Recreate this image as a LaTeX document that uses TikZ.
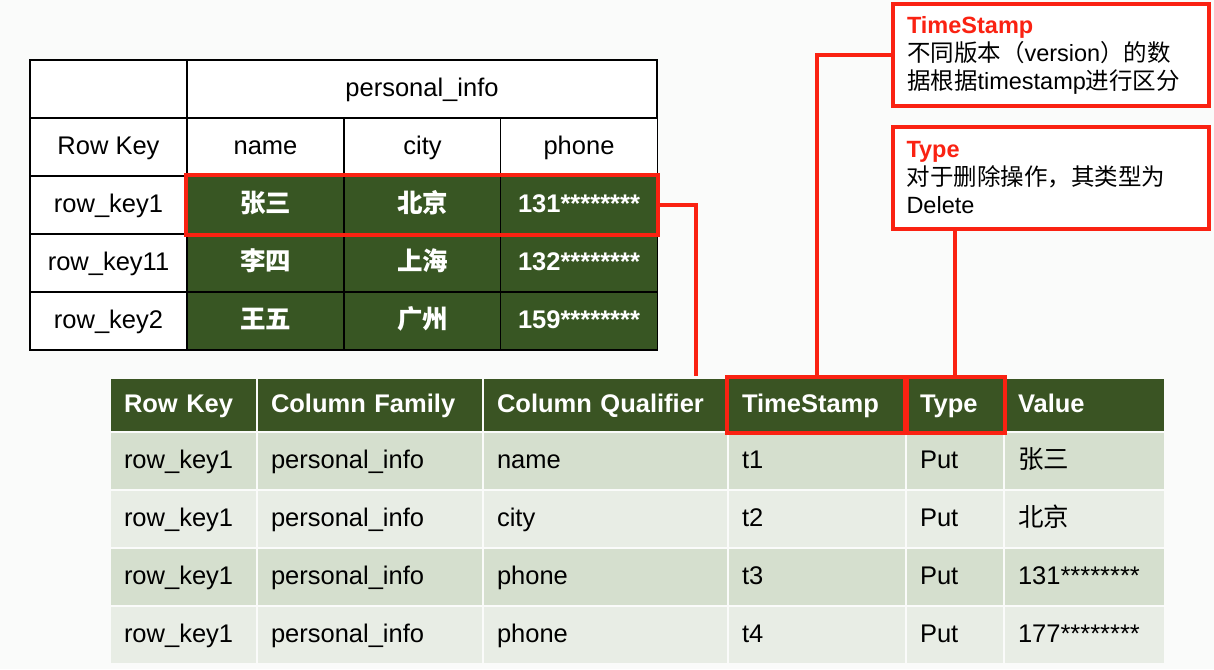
\documentclass[tikz,border=0pt]{standalone}
\usepackage{fontspec}
\setmainfont{Liberation Sans}
\newfontfamily\cjk{Noto Sans CJK SC}
\usetikzlibrary{fit}

\definecolor{paper}{RGB}{250,251,250}
\definecolor{leaf}{RGB}{56,86,35}
\definecolor{headgreen}{RGB}{58,84,35}
\definecolor{rowa}{RGB}{213,223,206}
\definecolor{rowb}{RGB}{232,237,229}
\definecolor{markred}{RGB}{250,34,18}

\begin{document}
\begin{tikzpicture}[x=1pt,y=-1pt,
    cell/.style={draw=black,line width=1.3pt,fill=white,minimum width=157,minimum height=58,
                 inner sep=0pt,text height=19pt,text depth=5pt,font=\fontsize{25.5}{28}\selectfont},
    green cell/.style={cell,fill=leaf,text=white,font=\fontsize{25.5}{28}\selectfont\bfseries},
    head cell/.style={draw=paper,line width=2.5pt,fill=headgreen,text=white,minimum height=54,
                 inner xsep=14,inner ysep=0pt,text height=19pt,text depth=5pt,align=left,
                 font=\fontsize{25.5}{28}\selectfont\bfseries},
    body cell/.style={draw=paper,line width=2.5pt,minimum height=58,inner xsep=14,inner ysep=0pt,
                 text height=19pt,text depth=5pt,align=left,font=\fontsize{25.5}{28}\selectfont},
    redbox/.style={draw=markred,line width=4pt,inner sep=0pt},
    note/.style={draw=markred,line width=4pt,fill=white,text width=288,minimum height=102,
                 inner xsep=14,align=left,font=\fontsize{23.5}{28}\selectfont},
    link/.style={draw=markred,line width=4pt}]

  \fill[paper] (0,0) rectangle (1214,669);
  \useasboundingbox (0,0) rectangle (1214,669);

  % personal_info table
  \node[cell] (blank) at (108.5,89) {};
  \node[cell,minimum width=470] (fam) at (422,89) {personal\_info};
  \node[cell] (rk) at (108.5,147) {Row Key};
  \node[cell] (nm) at (265.5,147) {name};
  \node[cell] (ct) at (422.5,147) {city};
  \node[cell] (ph) at (579,147) {phone};
  \node[cell] (k1) at (108.5,205) {row\_key1};
  \node[green cell] (n1) at (265.5,205) {\cjk 张三};
  \node[green cell] (c1) at (422.5,205) {\cjk 北京};
  \node[green cell] (p1) at (579,205) {131********};
  \node[cell] (k2) at (108.5,263) {row\_key11};
  \node[green cell] (n2) at (265.5,263) {\cjk 李四};
  \node[green cell] (c2) at (422.5,263) {\cjk 上海};
  \node[green cell] (p2) at (579,263) {132********};
  \node[cell] (k3) at (108.5,321) {row\_key2};
  \node[green cell] (n3) at (265.5,321) {\cjk 王五};
  \node[green cell] (c3) at (422.5,321) {\cjk 广州};
  \node[green cell] (p3) at (579,321) {159********};

  % cell table
  \node[head cell,text width=119] (hk) at (183.5,405) {Row Key};
  \node[head cell,text width=198] (hf) at (370,405) {Column Family};
  \node[head cell,text width=217] (hq) at (605.5,405) {Column Qualifier};
  \node[head cell,text width=150] (ht) at (817,405) {TimeStamp};
  \node[head cell,text width=70] (hy) at (955,405) {Type};
  \node[head cell,text width=133] (hv) at (1084.5,405) {Value};

  \foreach \i/\q/\t/\v/\c in {1/name/t1/{\cjk 张三}/rowa,2/city/t2/{\cjk 北京}/rowb,
                              3/phone/t3/131********/rowa,4/phone/t4/177********/rowb} {
    \node[body cell,fill=\c,text width=119] (b\i k) at (183.5,{403+58*\i}) {row\_key1};
    \node[body cell,fill=\c,text width=198] (b\i f) at (370,{403+58*\i}) {personal\_info};
    \node[body cell,fill=\c,text width=217] (b\i q) at (605.5,{403+58*\i}) {\q};
    \node[body cell,fill=\c,text width=150] (b\i t) at (817,{403+58*\i}) {\t};
    \node[body cell,fill=\c,text width=70] (b\i y) at (955,{403+58*\i}) {Put};
    \node[body cell,fill=\c,text width=133] (b\i v) at (1084.5,{403+58*\i}) {\v};
  }

  % highlights and notes
  \node[redbox,fit=(n1)(p1)] (hlrow) {};
  \node[redbox,fit=(ht)] (hlts) {};
  \node[redbox,fit=(hy)] (hlty) {};

  \node[note] (tsnote) at (1051,55)
    {\textcolor{markred}{\bfseries TimeStamp}\\{\cjk 不同版本（}version{\cjk ）的数}\\{\cjk 据根据}timestamp{\cjk 进行区分}};
  \node[note] (tynote) at (1050.5,178)
    {\textcolor{markred}{\bfseries Type}\\{\cjk 对于删除操作，其类型为}\\Delete};

  \coordinate (qdrop) at (696,376);
  \draw[link] (hlrow.east) -| (qdrop);
  \draw[link] (hlts.north) |- (tsnote.west);
  \draw[link] (hlty.north) -- (hlty.north |- tynote.south);

\end{tikzpicture}
\end{document}
